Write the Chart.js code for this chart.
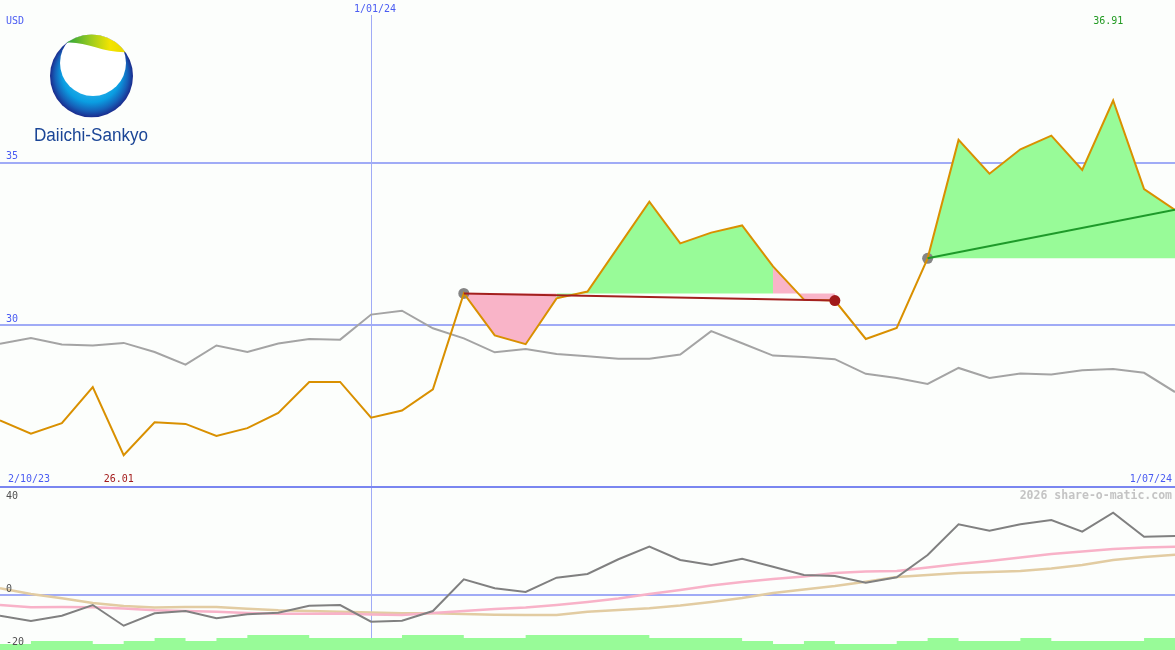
<!DOCTYPE html>
<html>
<head>
<meta charset="utf-8">
<script src="https://cdn.jsdelivr.net/npm/chart.js@4.4.1/dist/chart.umd.min.js"></script>
<style>
body{margin:0;background:#fcfefc}
#wrap{position:relative;width:1175px;height:650px;overflow:hidden}
#top{position:absolute;left:0;top:0}
#sep{position:absolute;left:0;top:486px;width:1175px;height:2px;background:#7a86f0}
#bot{position:absolute;left:0;top:488px}
</style>
</head>
<body>
<div id="wrap">
<canvas id="top" width="1175" height="488"></canvas>
<div id="sep"></div>
<canvas id="bot" width="1175" height="162"></canvas>
</div>
<script>
// weekly closes, 9/10/23 .. 1/07/24
var price = [27.08,26.67,26.99,28.10,26.01,27.02,26.97,26.60,26.84,27.31,
  28.26,28.26,27.16,27.38,28.03,30.98,29.69,29.42,30.83,31.04,
  32.42,33.80,32.52,32.85,33.07,31.81,30.79,30.76,29.58,29.92,
  32.06,35.70,34.66,35.41,35.83,34.78,36.91,34.19,33.55]
// comparison index (grey)
var indexLine = [29.43,29.61,29.41,29.38,29.46,29.18,28.79,29.38,29.18,29.44,
  29.58,29.56,30.33,30.45,29.91,29.60,29.17,29.27,29.12,29.05,
  28.97,28.97,29.10,29.82,29.45,29.07,29.03,28.96,28.51,28.38,
  28.20,28.69,28.38,28.52,28.49,28.62,28.66,28.54,27.95]
// lower panel
var momentum = [-7.74,-9.72,-7.74,-3.74,-11.48,-6.84,-5.98,-8.71,-7.21,-6.62,
  -4.00,-3.74,-9.98,-9.61,-5.98,5.87,2.50,1.12,6.47,7.85,
  13.35,18.06,13.08,11.21,13.57,10.58,7.48,7.10,4.60,6.62,
  14.95,26.43,24.04,26.43,28.04,23.66,30.77,21.79,22.06]
var avgFast = [-3.74,-4.60,-4.49,-4.60,-5.05,-5.72,-5.98,-6.28,-6.73,-6.99,
  -7.03,-6.92,-7.29,-7.48,-6.73,-5.98,-5.23,-4.67,-3.74,-2.62,
  -1.31,0.37,1.87,3.55,4.86,5.98,6.92,8.22,8.79,8.97,
  10.28,11.59,12.71,14.02,15.33,16.26,17.20,17.76,18.06]
var avgSlow = [2.50,0.37,-1.23,-2.99,-4.11,-4.67,-4.49,-4.49,-5.12,-5.72,
  -5.98,-6.24,-6.54,-6.84,-6.84,-7.10,-7.40,-7.48,-7.48,-6.24,
  -5.61,-4.97,-3.93,-2.62,-1.12,0.75,2.06,3.36,4.97,6.73,
  7.48,8.22,8.60,8.97,9.91,11.21,13.08,14.21,15.07]
var volume = [2,3,3,2,3,4,3,4,5,5, 4,4,4,5,5,4,4,5,5,5,
  5,4,4,4,3,2,3,2,2,3, 4,3,3,4,3,3,3,4]

var tradeStart = [15, 30]
var tradeEnd = [27, 38]
var priceGrid = [30, 35]
var oscTicks = [40, 0, -20]
var oscGrid = [0]
var dateMarks = [12]
var dateMarkLabels = ['1/01/24']
var firstDate = '2/10/23'
var lastDate = '1/07/24'

var GREEN = '#98fb98'
var PINK = '#f9b4c8'
var GRID = '#a0abf6'
var FONT = '10px "DejaVu Sans Mono", monospace'

function pts(arr){
  return arr.map(function(y, i){ return {x: i, y: y} })
}

function tradeFill(s, e){
  var base = price[s]
  return {
    data: pts(price.map(function(v, i){ return (i >= s && i <= e) ? v : null })),
    borderWidth: 0,
    pointRadius: 0,
    backgroundColor: GREEN,
    fill: {value: base},
    segment: {
      backgroundColor: function(c){ return price[c.p1DataIndex] >= base ? GREEN : PINK }
    }
  }
}

function txt(ctx, s, x, y, color, align, font){
  ctx.font = font || FONT
  ctx.fillStyle = color
  ctx.textAlign = align || 'left'
  ctx.textBaseline = 'middle'
  ctx.fillText(s, x, y)
}

function scalesFor(yMin, yMax, gridVals, extra){
  var s = {
    x: {
      type: 'linear', min: 0, max: price.length - 1,
      ticks: {display: false},
      border: {display: false},
      grid: {color: GRID, lineWidth: 1, drawTicks: false},
      afterBuildTicks: function(sc){ sc.ticks = dateMarks.map(function(v){ return {value: v} }) }
    },
    y: {
      min: yMin, max: yMax,
      ticks: {display: false},
      border: {display: false},
      grid: {color: GRID, lineWidth: 2, drawTicks: false},
      afterBuildTicks: function(sc){ sc.ticks = gridVals.map(function(v){ return {value: v} }) }
    }
  }
  if (extra) for (var k in extra) s[k] = extra[k]
  return s
}

// logo + texts on the price panel
var priceText = {
  id: 'priceText',
  afterDraw: function(chart){
    var ctx = chart.ctx
    var xs = chart.scales.x, ys = chart.scales.y
    ctx.save()
    // logo
    var cx = 91.5, cy = 76, r = 41.5
    ctx.save()
    ctx.beginPath(); ctx.arc(cx, cy, r, 0, Math.PI * 2); ctx.clip()
    var g = ctx.createRadialGradient(cx, cy - 10, 8, cx, cy, r)
    g.addColorStop(0, '#5fd0f4'); g.addColorStop(0.65, '#0a9ee2'); g.addColorStop(0.85, '#1660b8'); g.addColorStop(1, '#1a2a8c')
    ctx.fillStyle = g
    ctx.fillRect(cx - r, cy - r, r * 2, r * 2)
    ctx.fillStyle = '#ffffff'
    ctx.beginPath(); ctx.arc(cx + 1.5, cy - 13, 33, 0, Math.PI * 2); ctx.fill()
    var gb = ctx.createLinearGradient(cx - 30, 0, cx + 35, 0)
    gb.addColorStop(0, '#109a40'); gb.addColorStop(0.45, '#9ccc20'); gb.addColorStop(0.75, '#f4e400'); gb.addColorStop(1, '#e8d800')
    ctx.fillStyle = gb
    ctx.beginPath()
    ctx.moveTo(cx - 36, cy - 31)
    ctx.bezierCurveTo(cx - 12, cy - 40, cx + 8, cy - 22, cx + 38, cy - 24)
    ctx.lineTo(cx + 40, cy - r - 2)
    ctx.lineTo(cx - 40, cy - r - 2)
    ctx.closePath()
    ctx.fill()
    ctx.restore()
    ctx.font = '18px "Liberation Sans Narrow", "Liberation Sans", sans-serif'
    var w = ctx.measureText('Daiichi-Sankyo').width
    ctx.save()
    ctx.translate(34, 141)
    ctx.scale(114 / w, 1)
    ctx.fillStyle = '#1a4596'
    ctx.textAlign = 'left'
    ctx.textBaseline = 'alphabetic'
    ctx.fillText('Daiichi-Sankyo', 0, 0)
    ctx.restore()

    var blue = '#4a5cf2'
    txt(ctx, 'USD', 6, 21, blue)
    priceGrid.forEach(function(v){ txt(ctx, String(v), 6, ys.getPixelForValue(v) - 6, blue) })
    dateMarks.forEach(function(v, k){
      var x = xs.getPixelForValue(v)
      ctx.fillStyle = '#fcfefc'
      ctx.fillRect(x - 22, 0, 44, 15)
      txt(ctx, dateMarkLabels[k], x + 4, 9, blue, 'center')
    })
    txt(ctx, firstDate, 8, 479, blue)
    txt(ctx, lastDate, 1172, 479, blue, 'right')
    var lo = Math.min.apply(null, price), hi = Math.max.apply(null, price)
    txt(ctx, lo.toFixed(2), xs.getPixelForValue(price.indexOf(lo)) - 20, 479, '#a31c1c')
    txt(ctx, hi.toFixed(2), xs.getPixelForValue(price.indexOf(hi)) - 20, 21, '#229a22')
    ctx.restore()
  }
}

var oscText = {
  id: 'oscText',
  afterDraw: function(chart){
    var ctx = chart.ctx, ys = chart.scales.y
    ctx.save()
    oscTicks.forEach(function(v){
      var y = Math.max(8, Math.min(ys.getPixelForValue(v) - 6, chart.height - 8))
      txt(ctx, String(v), 6, y, '#505050')
    })
    txt(ctx, '2026 share-o-matic.com', 1172, 8, '#c4c4c4', 'right', 'bold 11.5px "DejaVu Sans Mono", monospace')
    ctx.restore()
  }
}

var common = {
  responsive: false,
  animation: false,
  devicePixelRatio: 1,
  layout: {padding: 0, autoPadding: false},
  plugins: {legend: {display: false}, tooltip: {enabled: false}}
}

var topSets = []
var closedTrades = tradeEnd.filter(function(e){ return e < price.length - 1 })
topSets.push({
  data: closedTrades.map(function(e){ return {x: e, y: price[e]} }),
  showLine: false, pointRadius: 5.5, pointBackgroundColor: '#a01a1a', pointBorderWidth: 0
})
tradeStart.forEach(function(s, t){
  var e = tradeEnd[t]
  topSets.push({
    data: [{x: s, y: price[s]}, {x: e, y: price[e]}],
    borderColor: price[e] >= price[s] ? '#1e9a2a' : '#a3201e',
    borderWidth: 2, pointRadius: 0
  })
})
topSets.push({data: pts(price), borderColor: '#d99000', borderWidth: 2, pointRadius: 0})
topSets.push({
  data: tradeStart.map(function(s){ return {x: s, y: price[s]} }),
  showLine: false, pointRadius: 5.5, pointBackgroundColor: '#858585', pointBorderWidth: 0
})
tradeStart.forEach(function(s, t){ topSets.push(tradeFill(s, tradeEnd[t])) })
topSets.push({data: pts(indexLine), borderColor: '#a4a4a4', borderWidth: 2, pointRadius: 0})

const topChart = new Chart(document.getElementById('top').getContext('2d'), {
  type: 'line',
  data: {datasets: topSets},
  options: Object.assign({}, common, {scales: scalesFor(25, 40, priceGrid)}),
  plugins: [priceText]
})

var volPts = pts(volume).concat([{x: volume.length, y: volume[volume.length - 1]}])

const botChart = new Chart(document.getElementById('bot').getContext('2d'), {
  type: 'line',
  data: {
    datasets: [
      {data: pts(momentum), borderColor: '#808080', borderWidth: 2, pointRadius: 0},
      {data: pts(avgFast), borderColor: '#f8b2c8', borderWidth: 2.5, pointRadius: 0},
      {data: pts(avgSlow), borderColor: '#e2cca2', borderWidth: 2.5, pointRadius: 0},
      {data: volPts, yAxisID: 'yv', stepped: true, borderWidth: 0, pointRadius: 0,
        backgroundColor: GREEN, fill: 'start'}
    ]
  },
  options: Object.assign({}, common, {
    scales: scalesFor(-20.56, 40, oscGrid, {
      yv: {display: false, min: 0, max: 54}
    })
  }),
  plugins: [oscText]
})
</script>
</body>
</html>
